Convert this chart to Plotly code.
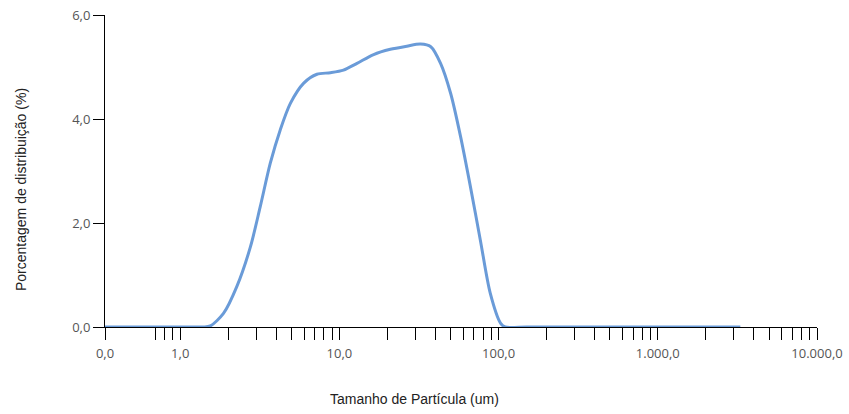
import plotly.graph_objects as go

# Particle size (um) and distribution (%)
sizes = [0.337, 0.5, 0.8, 1.0, 1.2, 1.4, 1.545, 1.87, 2.27, 2.76, 3.18, 3.68, 4.25, 4.92,
         5.97, 7.23, 8.77, 10.6, 12.9, 16.4, 20.9, 26.5, 32.3, 37.5, 43.2, 50.0,
         57.7, 66.5, 76.8, 88.6, 103.0, 110.0, 150.0, 300.0, 700.0, 1500.0, 3300.0]
percent = [0.0, 0.0, 0.0, 0.0, 0.0, 0.0, 0.02, 0.26, 0.78, 1.54, 2.31, 3.15, 3.79, 4.30,
           4.69, 4.86, 4.89, 4.94, 5.07, 5.24, 5.34, 5.40, 5.44, 5.39, 5.07, 4.49,
           3.66, 2.70, 1.67, 0.65, 0.07, 0.0, 0.0, 0.0, 0.0, 0.0, 0.0]

x_tick_vals = [0.337, 0.7, 0.8, 0.9, 1, 2, 3, 4, 5, 6, 7, 8, 9, 10,
               20, 30, 40, 50, 60, 70, 80, 90, 100,
               200, 300, 400, 500, 600, 700, 800, 900, 1000,
               2000, 3000, 4000, 5000, 6000, 7000, 8000, 9000, 10000]
major_labels = {0.337: "0,0", 1: "1,0", 10: "10,0", 100: "100,0", 1000: "1.000,0", 10000: "10.000,0"}
x_tick_text = [major_labels.get(v, "") for v in x_tick_vals]
y_tick_vals = [0, 2, 4, 6]
x_title = "Tamanho de Partícula (um)"
y_title = "Porcentagem de distribuição (%)"

fig = go.Figure()
fig.add_trace(go.Scatter(
    x=sizes, y=percent, mode="lines",
    line=dict(color="#6a9bd8", width=3, shape="spline", smoothing=0.8),
    cliponaxis=False, hoverinfo="x+y",
))

title_font = dict(family="Liberation Sans, Arial, sans-serif", size=14, color="#222222")
fig.update_layout(
    width=849, height=414,
    margin=dict(l=105, r=32, t=15, b=87),
    paper_bgcolor="white", plot_bgcolor="white",
    separators=",.",
    showlegend=False,
    font=dict(family="Open Sans, DejaVu Sans, sans-serif", size=13, color="#555555"),
    annotations=[
        dict(text=x_title, xref="paper", yref="paper", x=0.434, y=0, yshift=-72,
             xanchor="center", yanchor="middle", showarrow=False, font=title_font),
        dict(text=y_title, xref="paper", yref="paper", x=0, y=0.439, xshift=-84,
             xanchor="center", yanchor="middle", textangle=-90, showarrow=False, font=title_font),
    ],
)
fig.update_xaxes(
    type="log", range=[-0.4724, 4.0],
    tickmode="array", tickvals=x_tick_vals, ticktext=x_tick_text,
    ticks="outside", ticklen=12, tickcolor="#000000", tickwidth=1,
    ticklabelstandoff=2, ticklabeloverflow="allow",
    showline=True, linecolor="#000000", linewidth=1,
    showgrid=False, zeroline=False, layer="below traces",
    tickfont=dict(size=13, color="#555555"),
    automargin=False,
)
fig.update_yaxes(
    range=[0, 6],
    tickmode="array", tickvals=y_tick_vals, tickformat=".1f",
    ticks="outside", ticklen=11, tickcolor="#000000", tickwidth=1,
    ticklabeloverflow="allow",
    showline=True, linecolor="#000000", linewidth=1,
    showgrid=False, zeroline=False, layer="below traces",
    tickfont=dict(size=13, color="#555555"),
    automargin=False,
)

fig.write_html("out.html", config={"displayModeBar": False},
               post_script="document.body.style.margin='0';")
